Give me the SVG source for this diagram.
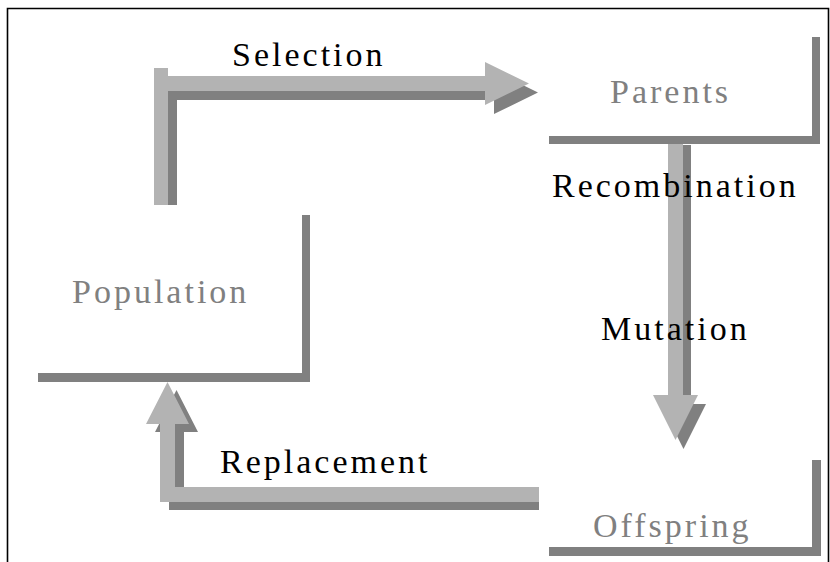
<svg xmlns="http://www.w3.org/2000/svg" width="830" height="562" viewBox="0 0 830 562">
<style>
.lt{fill:#b3b3b3}
.dk{fill:#808080}
.ln{fill:#808080}
text{font-family:"Liberation Serif","Times New Roman",serif;font-size:34px;letter-spacing:3px}
.lbl{fill:#000}
.nm{fill:#808080}
.frame{fill:none;stroke:#000;stroke-width:1.6}
</style>
<rect x="0" y="0" width="830" height="562" fill="#fff"/>
<path class="frame" d="M7.5,562 V8.5 H828.5 V562"/>
<g id="connectors">
  <g id="edge-selection">
    <polygon class="dk" points="163,77 177,77 177,85 494,85 494,71 538,92.5 494,114 494,100 177,100 177,205 163,205"/>
    <polygon class="lt" points="154,68 168,68 168,76 485,76 485,62 529,83.5 485,105 485,91 168,91 168,205 154,205"/>
    <text class="lbl" x="232" y="66">Selection</text>
  </g>
  <g id="edge-variation">
    <polygon class="dk" points="676,145 691,145 691,404 706,404 683.5,449 661,404 676,404"/>
    <polygon class="lt" points="668,136 683,136 683,395 698,395 675.5,440 653,395 668,395"/>
    <text class="lbl" x="552" y="197">Recombination</text>
    <text class="lbl" x="601" y="340">Mutation</text>
  </g>
  <g id="edge-replacement">
    <polygon class="dk" points="539,495 539,510 169,510 169,432 155,432 176.5,390 198,432 184,432 184,495"/>
    <polygon class="lt" points="539,487 539,502 160,502 160,424 146,424 167.5,382 189,424 175,424 175,487"/>
    <text class="lbl" x="220" y="473">Replacement</text>
  </g>
</g>
<g id="node-parents">
  <path class="ln" d="M812,37 H820 V144 H549 V136 H812 Z"/>
  <text class="nm" x="610" y="103">Parents</text>
</g>
<g id="node-population">
  <path class="ln" d="M302,215 H310 V382 H38 V373 H302 Z"/>
  <text class="nm" x="72" y="303">Population</text>
</g>
<g id="node-offspring">
  <path class="ln" d="M812,460 H821 V556 H549 V547 H812 Z"/>
  <text class="nm" x="593" y="537">Offspring</text>
</g>
</svg>
